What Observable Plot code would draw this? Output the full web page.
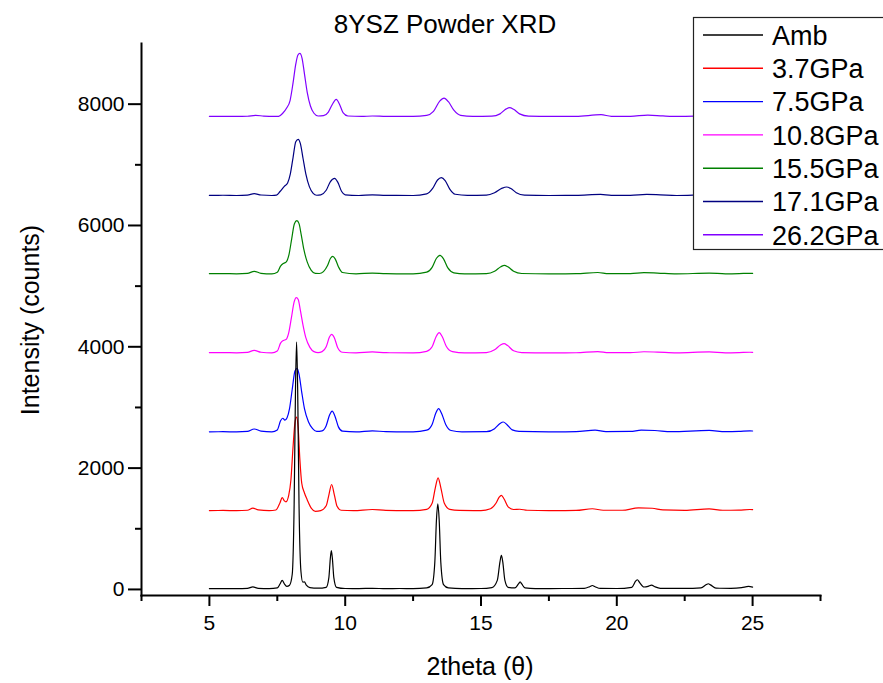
<!DOCTYPE html>
<html><head><meta charset="utf-8">
<script src="https://cdn.jsdelivr.net/npm/d3@7"></script>
<script src="https://cdn.jsdelivr.net/npm/@observablehq/plot@0.6"></script>
<style>body{margin:0;background:#fff;} #chart{width:883px;height:683px;}</style>
</head><body><div id="chart"></div>
<script>
const seriesNames = ["Amb", "3.7GPa", "7.5GPa", "10.8GPa", "15.5GPa", "17.1GPa", "26.2GPa"];
const seriesColors = ["#000000", "#ff0000", "#0000ff", "#ff00ff", "#008000", "#000080", "#8000ff"];

const amb = [[5.0,12],[5.5,14],[6.0,12],[6.4,16],[6.6,42],[6.8,18],[7.2,14],[7.5,25],[7.6,90],[7.68,150],[7.76,90],[7.85,50],[7.95,70],[8.05,250],[8.12,1400],[8.17,3300],[8.21,4080],[8.25,3300],[8.3,1400],[8.37,300],[8.44,120],[8.5,125],[8.57,70],[8.7,30],[9.0,20],[9.3,35],[9.4,200],[9.45,500],[9.49,640],[9.53,500],[9.58,200],[9.68,35],[10.0,15],[10.5,14],[11.0,18],[11.5,12],[12.0,15],[12.5,14],[13.0,25],[13.2,80],[13.3,450],[13.36,1150],[13.41,1410],[13.46,1150],[13.52,450],[13.62,80],[13.8,25],[14.3,14],[15.0,15],[15.4,30],[15.6,150],[15.7,460],[15.75,560],[15.8,460],[15.88,150],[16.0,35],[16.25,25],[16.38,90],[16.44,125],[16.5,90],[16.62,25],[17.0,14],[18.0,15],[18.8,18],[19.0,45],[19.1,65],[19.2,45],[19.4,16],[20.0,15],[20.55,35],[20.7,140],[20.76,160],[20.83,120],[21.0,40],[21.15,50],[21.28,72],[21.4,45],[21.6,18],[22.5,16],[23.1,25],[23.3,80],[23.37,94],[23.45,75],[23.65,20],[24.2,18],[24.6,30],[24.85,50],[25.0,38]];

const gpa3_7 = [[5.0,1300],[5.5,1302],[6.0,1298],[6.4,1305],[6.6,1340],[6.8,1310],[7.2,1300],[7.45,1310],[7.6,1430],[7.68,1515],[7.76,1460],[7.82,1445],[7.92,1550],[8.0,1800],[8.08,2350],[8.15,2750],[8.21,2840],[8.27,2650],[8.33,2150],[8.4,1750],[8.5,1590],[8.6,1480],[8.75,1340],[8.9,1288],[9.1,1300],[9.3,1380],[9.4,1560],[9.5,1730],[9.6,1560],[9.7,1370],[9.85,1305],[10.3,1300],[11.0,1318],[11.5,1302],[12.5,1300],[13.0,1320],[13.2,1420],[13.32,1680],[13.42,1840],[13.52,1680],[13.65,1420],[13.85,1320],[14.2,1303],[15.0,1300],[15.35,1330],[15.55,1420],[15.67,1520],[15.75,1550],[15.85,1490],[16.0,1360],[16.2,1318],[16.43,1322],[16.7,1305],[17.5,1300],[18.5,1302],[19.1,1330],[19.5,1305],[20.2,1305],[20.8,1345],[21.3,1338],[21.7,1310],[22.5,1303],[23.4,1328],[23.9,1305],[24.5,1308],[24.9,1318],[25.0,1315]];

const gpa7_5 = [[5.0,2598],[5.5,2600],[6.0,2597],[6.4,2605],[6.65,2645],[6.9,2610],[7.3,2598],[7.5,2630],[7.62,2780],[7.7,2822],[7.78,2790],[7.86,2830],[7.95,2980],[8.05,3300],[8.15,3600],[8.23,3645],[8.3,3550],[8.4,3250],[8.5,2980],[8.65,2760],[8.8,2650],[8.95,2605],[9.15,2615],[9.3,2700],[9.42,2870],[9.52,2940],[9.62,2860],[9.75,2680],[9.9,2610],[10.4,2598],[11.0,2615],[11.5,2600],[12.5,2598],[13.0,2625],[13.2,2720],[13.33,2900],[13.44,2980],[13.55,2900],[13.7,2720],[13.9,2620],[14.3,2598],[15.2,2600],[15.5,2650],[15.7,2735],[15.82,2760],[15.95,2720],[16.15,2630],[16.4,2605],[17.5,2598],[18.5,2600],[19.2,2625],[19.6,2602],[20.5,2605],[20.9,2625],[21.4,2620],[22.0,2600],[23.4,2622],[24.0,2600],[24.5,2605],[24.9,2615],[25.0,2612]];

const gpa10_8 = [[5.0,3903],[5.5,3905],[6.0,3900],[6.4,3908],[6.65,3940],[6.9,3910],[7.3,3900],[7.5,3930],[7.62,4060],[7.73,4105],[7.82,4120],[7.92,4230],[8.02,4480],[8.12,4740],[8.2,4810],[8.27,4780],[8.35,4600],[8.45,4350],[8.55,4150],[8.7,3990],[8.85,3920],[9.0,3905],[9.15,3920],[9.3,4000],[9.42,4160],[9.5,4205],[9.6,4150],[9.72,3990],[9.9,3910],[10.4,3900],[11.0,3915],[11.5,3903],[12.5,3900],[13.0,3925],[13.2,4000],[13.35,4170],[13.46,4233],[13.57,4170],[13.72,4010],[13.95,3920],[14.4,3900],[15.2,3905],[15.5,3950],[15.72,4030],[15.85,4052],[15.98,4020],[16.2,3935],[16.5,3905],[17.5,3900],[18.5,3902],[19.3,3922],[19.7,3903],[20.5,3903],[21.0,3918],[21.5,3912],[22.2,3900],[23.4,3915],[24.0,3900],[24.5,3904],[24.9,3910],[25.0,3908]];

const gpa15_5 = [[5.0,5205],[5.5,5207],[6.0,5203],[6.4,5210],[6.65,5245],[6.9,5212],[7.3,5203],[7.5,5230],[7.62,5330],[7.73,5375],[7.83,5400],[7.93,5520],[8.03,5780],[8.13,6030],[8.22,6080],[8.3,6030],[8.38,5850],[8.48,5600],[8.6,5400],[8.75,5260],[8.9,5210],[9.05,5208],[9.2,5240],[9.35,5340],[9.46,5460],[9.54,5490],[9.63,5450],[9.75,5320],[9.9,5225],[10.4,5203],[11.0,5215],[11.5,5205],[12.5,5203],[13.0,5230],[13.2,5310],[13.36,5460],[13.49,5507],[13.62,5450],[13.78,5300],[14.0,5220],[14.4,5203],[15.2,5207],[15.5,5245],[15.73,5320],[15.86,5343],[15.99,5318],[16.2,5245],[16.5,5208],[17.5,5203],[18.5,5205],[19.3,5225],[19.7,5206],[20.5,5206],[21.0,5222],[21.5,5215],[22.2,5202],[23.4,5215],[24.0,5203],[24.5,5206],[24.9,5212],[25.0,5210]];

const gpa17_1 = [[5.0,6496],[5.5,6498],[6.0,6494],[6.4,6500],[6.65,6525],[6.9,6502],[7.3,6494],[7.47,6500],[7.6,6560],[7.75,6640],[7.88,6700],[7.98,6850],[8.08,7120],[8.18,7380],[8.27,7420],[8.35,7350],[8.45,7100],[8.55,6850],[8.68,6640],[8.82,6530],[8.95,6498],[9.1,6505],[9.3,6580],[9.45,6720],[9.61,6777],[9.73,6710],[9.87,6560],[10.0,6505],[10.5,6494],[11.0,6505],[11.5,6496],[12.5,6494],[13.0,6520],[13.22,6610],[13.4,6750],[13.54,6788],[13.68,6740],[13.85,6600],[14.05,6515],[14.5,6496],[15.2,6500],[15.5,6540],[15.78,6615],[15.94,6634],[16.1,6610],[16.3,6540],[16.6,6500],[17.5,6494],[18.5,6496],[19.4,6512],[19.8,6497],[20.5,6497],[21.1,6512],[21.6,6505],[22.2,6494],[23.4,6505],[24.0,6494],[24.5,6497],[24.9,6502],[25.0,6500]];

const gpa26_2 = [[5.0,7799],[5.5,7800],[6.0,7797],[6.4,7801],[6.7,7815],[7.0,7803],[7.4,7797],[7.55,7800],[7.7,7850],[7.85,7940],[7.97,8060],[8.08,8350],[8.18,8660],[8.26,8810],[8.33,8837],[8.41,8760],[8.5,8500],[8.6,8200],[8.72,7970],[8.85,7850],[9.0,7805],[9.2,7810],[9.38,7870],[9.52,7990],[9.67,8080],[9.79,8000],[9.92,7860],[10.1,7805],[10.6,7797],[11.0,7805],[11.5,7799],[12.5,7797],[13.0,7815],[13.25,7880],[13.48,8050],[13.64,8101],[13.8,8040],[14.0,7900],[14.25,7815],[14.7,7799],[15.4,7802],[15.7,7840],[15.93,7922],[16.05,7942],[16.2,7915],[16.42,7840],[16.75,7803],[17.6,7797],[18.5,7799],[19.42,7826],[19.8,7800],[20.5,7800],[21.14,7820],[21.7,7806],[22.3,7797],[23.4,7806],[24.0,7797],[24.5,7800],[24.9,7804],[25.0,7802]];

const seriesData = [amb, gpa3_7, gpa7_5, gpa10_8, gpa15_5, gpa17_1, gpa26_2];

const xTicks = [5, 10, 15, 20, 25];
const xMinorTicks = [2.5, 7.5, 12.5, 17.5, 22.5, 27.5];
const yTicks = [0, 2000, 4000, 6000, 8000];
const yMinorTicks = [1000, 3000, 5000, 7000];

const titleText = "8YSZ Powder XRD";
const xLabel = "2theta (\u03b8)";
const yLabel = "Intensity (counts)";

const FONT = "'Liberation Sans', Arial, Helvetica, sans-serif";

const lineMarks = seriesData.map((pts, i) => ({pts, i})).reverse().map(({pts, i}) =>
  Plot.line(pts, {x: d => d[0], y: d => d[1], stroke: seriesColors[i], strokeWidth: 1.2, curve: "monotone-x"})
);

const plot = Plot.plot({
  width: 883,
  height: 683,
  marginLeft: 141,
  marginRight: 63,
  marginTop: 43,
  marginBottom: 88,
  style: {fontFamily: FONT, fontSize: "21px", background: "white", color: "black", overflow: "visible"},
  x: {domain: [2.5, 27.5]},
  y: {domain: [-100, 9000]},
  marks: [
    ...lineMarks,
    Plot.axisX(xTicks, {tickSize: 11, tickPadding: 9, strokeWidth: 2, tickFormat: d => String(d), label: null}),
    Plot.axisX(xMinorTicks, {tickSize: 6, strokeWidth: 2, tickFormat: () => "", label: null}),
    Plot.axisY(yTicks, {tickSize: 13, tickPadding: 4, strokeWidth: 2, tickFormat: d => String(d), label: null}),
    Plot.axisY(yMinorTicks, {tickSize: 6, strokeWidth: 2, tickFormat: () => "", label: null}),
    Plot.frame({anchor: "left", strokeWidth: 2}),
    Plot.frame({anchor: "bottom", strokeWidth: 2})
  ]
});

const svg = d3.select(plot);

svg.append("text")
  .attr("x", 445).attr("y", 33)
  .attr("text-anchor", "middle")
  .style("font-family", FONT).style("font-size", "26px").attr("fill", "black")
  .text(titleText);

svg.append("text")
  .attr("x", 480).attr("y", 675)
  .attr("text-anchor", "middle")
  .style("font-family", FONT).style("font-size", "25px").attr("fill", "black")
  .text(xLabel);

svg.append("text")
  .attr("transform", "translate(39,320) rotate(-90)")
  .attr("text-anchor", "middle")
  .style("font-family", FONT).style("font-size", "25px").attr("fill", "black")
  .text(yLabel);

const lg = svg.append("g").attr("text-anchor", "start");
lg.append("rect")
  .attr("x", 693.5).attr("y", 17.5).attr("width", 210).attr("height", 232)
  .attr("fill", "white").attr("stroke", "#222").attr("stroke-width", 1.2);
seriesNames.forEach((name, i) => {
  const yy = 35 + i * 33.3;
  lg.append("line").attr("x1", 703).attr("x2", 763).attr("y1", yy).attr("y2", yy)
    .attr("stroke", seriesColors[i]).attr("stroke-width", 1.4);
  lg.append("text").attr("x", 772).attr("y", yy).attr("dy", "0.36em")
    .attr("text-anchor", "start")
    .style("font-family", FONT).style("font-size", "27px").attr("fill", "black")
    .text(name);
});

document.getElementById("chart").appendChild(plot);
</script>
</body></html>
